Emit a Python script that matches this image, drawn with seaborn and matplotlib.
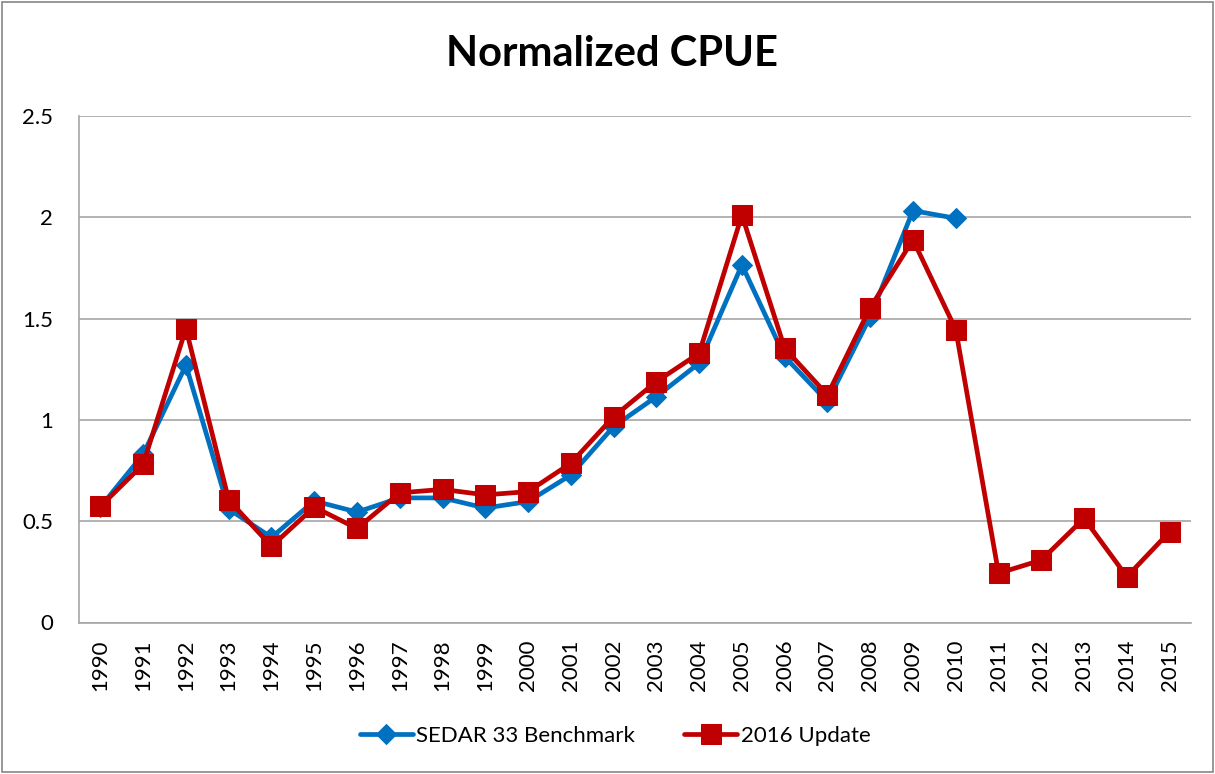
import matplotlib
matplotlib.use("Agg")
import matplotlib.pyplot as plt
import numpy as np
import pandas as pd
import seaborn as sns

years = [str(y) for y in range(1990, 2016)]
sedar33 = [0.57, 0.83, 1.27, 0.56, 0.42, 0.60, 0.545, 0.615, 0.615, 0.565, 0.597,
           0.728, 0.967, 1.115, 1.28, 1.765, 1.312, 1.09, 1.51, 2.033, 1.995]
update2016 = [0.573, 0.781, 1.451, 0.605, 0.376, 0.570, 0.464, 0.64, 0.657, 0.63, 0.646,
              0.786, 1.016, 1.189, 1.329, 2.011, 1.353, 1.123, 1.554, 1.889, 1.446,
              0.243, 0.308, 0.514, 0.226, 0.448]
series_names = ["SEDAR 33 Benchmark", "2016 Update"]
y_ticks = [0, 0.5, 1, 1.5, 2, 2.5]
y_tick_labels = ["0", "0.5", "1", "1.5", "2", "2.5"]

df = pd.concat([
    pd.DataFrame({"pos": np.arange(len(sedar33)), "cpue": sedar33, "series": series_names[0]}),
    pd.DataFrame({"pos": np.arange(len(update2016)), "cpue": update2016, "series": series_names[1]}),
])

sns.set_style("white")
plt.rcParams["font.family"] = ["Lato", "DejaVu Sans"]
plt.rcParams["text.color"] = "black"
plt.rcParams["xtick.labelcolor"] = "black"
plt.rcParams["ytick.labelcolor"] = "black"

fig = plt.figure(figsize=(12.15, 7.74), dpi=100)
ax = fig.add_axes([79 / 1215, 1 - 622.5 / 774, (1191 - 79) / 1215, (622.5 - 116) / 774])

blue = "#0070C0"
red = "#C00000"
sns.lineplot(data=df[df.series == series_names[0]], x="pos", y="cpue", ax=ax,
             color=blue, linewidth=3.4, marker="D", markersize=10,
             markeredgecolor=blue, label=series_names[0], sort=False)
sns.lineplot(data=df[df.series == series_names[1]], x="pos", y="cpue", ax=ax,
             color=red, linewidth=3.4, marker="s", markersize=15,
             markeredgecolor=red, label=series_names[1], sort=False)

grid_col = "#A6A6A6"
ax.set_ylim(0, 2.5)
ax.set_xlim(-0.5, len(years) - 0.5)
ax.set_yticks(y_ticks)
ax.set_yticklabels(y_tick_labels, fontsize=16, color="black")
ax.set_xticks(np.arange(len(years)))
ax.set_xticklabels(years, rotation=90, fontsize=16, color="black")
ax.set_xticks(np.arange(len(years) + 1) - 0.5, minor=True)
ax.tick_params(axis="x", which="major", length=0, pad=12)
ax.tick_params(axis="x", which="minor", length=6, color=grid_col, width=1, direction="out")
ax.tick_params(axis="y", which="major", length=6.5, color=grid_col, width=1, direction="out", pad=12)
ax.yaxis.grid(True, color=grid_col, linewidth=1.2)
ax.xaxis.grid(False)
ax.set_axisbelow(True)
for side in ["top", "right"]:
    ax.spines[side].set_visible(False)
for side in ["left", "bottom"]:
    ax.spines[side].set_color(grid_col)
    ax.spines[side].set_linewidth(1.2)
ax.set_xlabel("")
ax.set_ylabel("")

leg = ax.legend(loc="center", bbox_to_anchor=(615 / 1112 - 79 / 1112, -(736 - 622.5) / 506.5),
                ncol=2, frameon=False,
                fontsize=16, handlelength=2.4, handletextpad=0.15, columnspacing=2.2,
                borderaxespad=0)
for t in leg.get_texts():
    t.set_color("black")

fig.text(612 / 1215, 1 - 54 / 774, "Normalized CPUE", ha="center", va="center",
         fontsize=30, fontweight="bold", color="black")

fig.patches.append(plt.Rectangle((0.002, 0.002), 0.996, 0.996, transform=fig.transFigure,
                                 fill=False, edgecolor="#868686", linewidth=1.2))

fig.savefig("out.png", dpi=100, facecolor="white")
